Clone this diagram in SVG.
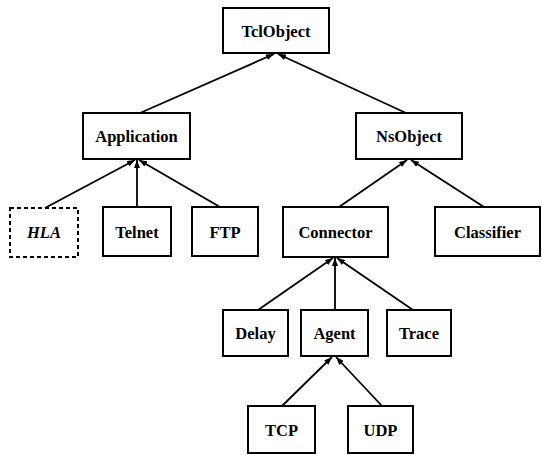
<svg xmlns="http://www.w3.org/2000/svg" width="542" height="455" viewBox="0 0 542 455">
  <style>
    .box { fill: #ffffff; stroke: #000000; stroke-width: 2; }
    .dashed { stroke-dasharray: 4 3; }
    .label { font-family: "Liberation Serif", "Times New Roman", serif; font-size: 16.5px; font-weight: bold; fill: #000000; text-anchor: middle; }
    .italic { font-style: italic; }
    .edge { stroke: #000000; stroke-width: 1.8; fill: none; marker-end: url(#arrow); }
  </style>
  <defs>
    <marker id="arrow" markerUnits="userSpaceOnUse" markerWidth="8" markerHeight="6" refX="8" refY="3" orient="auto">
      <path d="M0,0 L8,3 L0,6 z" fill="#000000"/>
    </marker>
  </defs>
  <rect width="542" height="455" fill="#ffffff"/>

  <!-- inheritance links: child top to parent bottom -->
  <g id="connectors">
    <line class="edge" x1="140" y1="113" x2="274" y2="54"/>
    <line class="edge" x1="406" y1="113" x2="278" y2="54"/>
    <line class="edge" x1="45" y1="208" x2="135" y2="160"/>
    <line class="edge" x1="137" y1="207" x2="137" y2="160"/>
    <line class="edge" x1="220" y1="207" x2="139" y2="160"/>
    <line class="edge" x1="339" y1="207" x2="407" y2="160"/>
    <line class="edge" x1="484" y1="207" x2="411" y2="160"/>
    <line class="edge" x1="258" y1="310" x2="333" y2="258"/>
    <line class="edge" x1="335" y1="310" x2="335" y2="258"/>
    <line class="edge" x1="413" y1="310" x2="337" y2="258"/>
    <line class="edge" x1="282" y1="406" x2="332" y2="357"/>
    <line class="edge" x1="382" y1="406" x2="336" y2="357"/>
  </g>

  <g id="tclobject">
    <rect class="box" x="223" y="8" width="106" height="45"/>
    <text class="label" x="276" y="36.5">TclObject</text>
  </g>
  <g id="application">
    <rect class="box" x="83" y="113" width="107" height="46"/>
    <text class="label" x="136.5" y="142">Application</text>
  </g>
  <g id="nsobject">
    <rect class="box" x="356" y="113" width="106" height="46"/>
    <text class="label" x="409" y="142">NsObject</text>
  </g>
  <g id="hla">
    <rect class="box dashed" x="10" y="208" width="68" height="49"/>
    <text class="label italic" x="44" y="238">HLA</text>
  </g>
  <g id="telnet">
    <rect class="box" x="103" y="207" width="68" height="49"/>
    <text class="label" x="137" y="237.5">Telnet</text>
  </g>
  <g id="ftp">
    <rect class="box" x="192" y="207" width="66" height="49"/>
    <text class="label" x="225" y="237.5">FTP</text>
  </g>
  <g id="connector">
    <rect class="box" x="283" y="207" width="105" height="50"/>
    <text class="label" x="335.5" y="238">Connector</text>
  </g>
  <g id="classifier">
    <rect class="box" x="435" y="207" width="105" height="49"/>
    <text class="label" x="487.5" y="237.5">Classifier</text>
  </g>
  <g id="delay">
    <rect class="box" x="223" y="310" width="65" height="46"/>
    <text class="label" x="255.5" y="339">Delay</text>
  </g>
  <g id="agent">
    <rect class="box" x="301" y="310" width="67" height="46"/>
    <text class="label" x="334.5" y="339">Agent</text>
  </g>
  <g id="trace">
    <rect class="box" x="387" y="310" width="64" height="46"/>
    <text class="label" x="419" y="339">Trace</text>
  </g>
  <g id="tcp">
    <rect class="box" x="248" y="406" width="67" height="47"/>
    <text class="label" x="281.5" y="435.5">TCP</text>
  </g>
  <g id="udp">
    <rect class="box" x="348" y="406" width="65" height="47"/>
    <text class="label" x="380.5" y="435.5">UDP</text>
  </g>
</svg>
